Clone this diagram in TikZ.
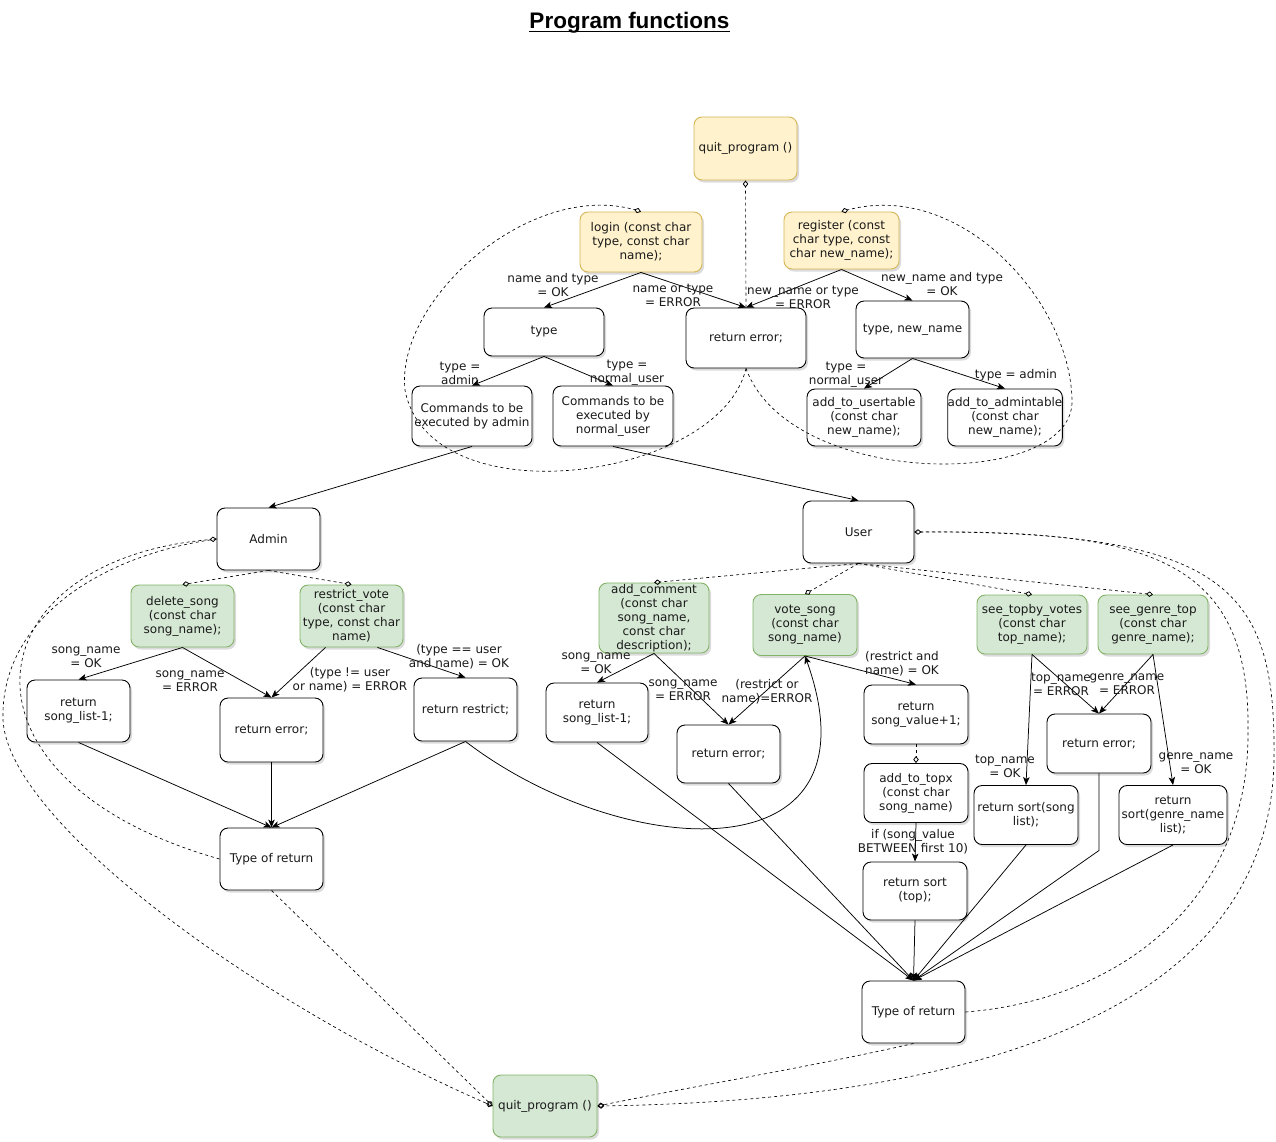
\documentclass[tikz,border=0pt]{standalone}
\usepackage{fontspec}
\setmainfont{DejaVu Sans}
\newfontfamily\headfont{Liberation Sans}
\usetikzlibrary{arrows.meta,shadows}
\definecolor{noteFill}{HTML}{FFF2CC}
\definecolor{noteLine}{HTML}{D6B656}
\definecolor{opFill}{HTML}{D5E8D4}
\definecolor{opLine}{HTML}{82B366}
\definecolor{ink}{HTML}{1A1A1A}

\begin{document}
\begin{tikzpicture}[x=1pt,y=-1pt,
  box/.style={draw=black, line width=0.9pt, rounded corners=8pt, fill=white,
    align=center, text=ink, font=\fontsize{12}{14}\selectfont, inner sep=0pt,
    drop shadow={shadow xshift=2pt,shadow yshift=-2.5pt,opacity=0.28}},
  entry/.style={box, draw=noteLine, fill=noteFill},
  op/.style={box, draw=opLine, fill=opFill},
  flow/.style={line width=0.75pt, -{Stealth[length=8pt,width=6.5pt,inset=2pt]}},
  link/.style={line width=0.65pt, dash pattern=on 3pt off 3pt,
    -{Diamond[open,length=7pt,width=5.5pt,line width=0.8pt]}},
  lbl/.style={align=center, font=\fontsize{12}{14}\selectfont, text=ink, inner sep=0pt},
]
\fill[white] (0,0) rectangle (1276,1141);
\useasboundingbox (0,0) rectangle (1276,1141);

% title
\node[font=\headfont\bfseries\fontsize{22.5}{26}\selectfont, anchor=base, inner sep=0pt] (title) at (629.5,28) {Program functions};
\draw[line width=1.8pt] ([yshift=-3.5pt]title.base west) -- ([yshift=-3.5pt]title.base east);

% ---------- login / register ----------
\node[entry, minimum width=103pt, minimum height=63pt] (quitTop) at (745.5,148.5) {quit\_program ()};
\node[entry, minimum width=122pt, minimum height=60pt] (login) at (641,242) {login (const char\\type, const char\\name);};
\node[entry, minimum width=115pt, minimum height=57pt] (register) at (841.5,240.5) {register (const\\char type, const\\char new\_name);};
\node[box, minimum width=120pt, minimum height=48pt] (type) at (544,332) {type};
\node[box, minimum width=120pt, minimum height=60pt] (retErrTop) at (746,338) {return error;};
\node[box, minimum width=113pt, minimum height=57pt] (typeName) at (912.5,329.5) {type, new\_name};
\node[box, minimum width=120pt, minimum height=60pt] (cmdAdmin) at (472,416) {Commands to be\\executed by admin};
\node[box, minimum width=120pt, minimum height=60pt] (cmdUser) at (613,416) {Commands to be\\executed by\\normal\_user};
\node[box, minimum width=114pt, minimum height=57pt] (addUser) at (864,417.5) {add\_to\_usertable\\(const char\\new\_name);};
\node[box, minimum width=114pt, minimum height=57pt] (addAdmin) at (1005,417.5) {add\_to\_admintable\\(const char\\new\_name);};

% ---------- admin branch ----------
\node[box, minimum width=103pt, minimum height=62pt] (Admin) at (268.5,539) {Admin};
\node[op, minimum width=103pt, minimum height=62pt] (deleteSong) at (182.5,616) {delete\_song\\(const char\\song\_name);};
\node[op, minimum width=103pt, minimum height=62pt] (restrictVote) at (351.5,616) {restrict\_vote\\(const char\\type, const char\\name)};
\node[box, minimum width=103pt, minimum height=62pt] (retSongA) at (78.5,711) {return\\song\_list-1;};
\node[box, minimum width=103pt, minimum height=64pt] (retErrA) at (271.5,730) {return error;};
\node[box, minimum width=103pt, minimum height=63pt] (retRestrict) at (465.5,709.5) {return restrict;};
\node[box, minimum width=103pt, minimum height=62pt] (typeRetA) at (271.5,859) {Type of return};

% ---------- user branch ----------
\node[box, minimum width=111pt, minimum height=62pt] (User) at (858.5,532) {User};
\node[op, minimum width=110pt, minimum height=70pt] (addComment) at (654,618) {add\_comment\\(const char\\song\_name,\\const char\\description);};
\node[op, minimum width=104pt, minimum height=61pt] (voteSong) at (805,625) {vote\_song\\(const char\\song\_name)};
\node[op, minimum width=110pt, minimum height=59pt] (seeTop) at (1032,624.5) {see\_topby\_votes\\(const char\\top\_name);};
\node[op, minimum width=110pt, minimum height=59pt] (seeGenre) at (1153,624.5) {see\_genre\_top\\(const char\\genre\_name);};
\node[box, minimum width=102pt, minimum height=59pt] (retSongU) at (597,712.5) {return\\song\_list-1;};
\node[box, minimum width=103pt, minimum height=58pt] (retErrU) at (728.5,754) {return error;};
\node[box, minimum width=104pt, minimum height=59pt] (retSongVal) at (916,714.5) {return\\song\_value+1;};
\node[box, minimum width=104pt, minimum height=59pt] (addTopx) at (916,793) {add\_to\_topx\\(const char\\song\_name)};
\node[box, minimum width=104pt, minimum height=58pt] (retSortTop) at (915,891) {return sort\\(top);};
\node[box, minimum width=104pt, minimum height=59pt] (retErrV) at (1099,743.5) {return error;};
\node[box, minimum width=104pt, minimum height=59pt] (retSortSong) at (1026,815) {return sort(song\\list);};
\node[box, minimum width=108pt, minimum height=59pt] (retSortGenre) at (1173,815) {return\\sort(genre\_name\\list);};
\node[box, minimum width=103pt, minimum height=62pt] (typeRetU) at (913.5,1012) {Type of return};
\node[op, minimum width=104pt, minimum height=62pt] (quitBottom) at (545,1106) {quit\_program ()};

% ---------- connectors: login / register ----------
\draw[flow] (login.south) -- (type.north);
\draw[flow] (login.south) -- (retErrTop.north);
\draw[flow] (register.south) -- (retErrTop.north);
\draw[flow] (register.south) -- (typeName.north);
\draw[link] (retErrTop.north) -- (quitTop.south);
\draw[flow] (type.south) -- (cmdAdmin.north);
\draw[flow] (type.south) -- (cmdUser.north);
\draw[flow] (typeName.south) -- (addUser.north);
\draw[flow] (typeName.south) -- (addAdmin.north);
\draw[flow] (cmdAdmin.south) -- (Admin.north);
\draw[flow] (cmdUser.south) -- (User.north);
\draw[link] (retErrTop.south) .. controls (720,480) and (430,520) .. (405,390)
  .. controls (395,300) and (530,180) .. (login.north);
\draw[link] (retErrTop.south) .. controls (790,490) and (1075,490) .. (1072,400)
  .. controls (1070,300) and (960,180) .. (register.north);

\node[lbl] (lLoginOk) at (553,285) {name and type\\= OK};
\node[lbl] (lLoginErr) at (673,295) {name or type\\= ERROR};
\node[lbl] (lRegErr) at (803,297) {new\_name or type\\= ERROR};
\node[lbl] (lRegOk) at (942,284) {new\_name and type\\= OK};
\node[lbl] (lTypeAdmin) at (460,373) {type =\\admin};
\node[lbl] (lTypeUser) at (627,373) {type =\\normal\_user};
\node[lbl] (lNewUser) at (846,375) {type =\\normal\_user};
\node[lbl] (lNewAdmin) at (1016,375) {type = admin};

% ---------- connectors: admin branch ----------
\draw[link] (Admin.south) -- (deleteSong.north);
\draw[link] (Admin.south) -- (restrictVote.north);
\draw[flow] (deleteSong.south) -- (retSongA.north);
\draw[flow] (deleteSong.south) -- (retErrA.north);
\draw[flow] ([xshift=-26pt]restrictVote.south) -- (retErrA.north);
\draw[flow] ([xshift=26pt]restrictVote.south) -- (retRestrict.north);
\draw[flow] (retSongA.south) -- (typeRetA.north);
\draw[flow] (retErrA.south) -- (typeRetA.north);
\draw[flow] (retRestrict.south) -- (typeRetA.north);
\draw[flow] (retRestrict.south) .. controls (620,860) and (885,880) .. (voteSong.south);
\draw[link] (typeRetA.west) .. controls (-60,780) and (-30,560) .. (Admin.west);
\draw[link] (Admin.west) .. controls (100,555) and (0,620) .. (3,720)
  .. controls (8,820) and (250,1000) .. (quitBottom.west);
\draw[link] (typeRetA.south) -- (quitBottom.west);

\node[lbl] (lDelOk) at (86,657) {song\_name\\= OK};
\node[lbl] (lDelErr) at (190,681) {song\_name\\= ERROR};
\node[lbl] (lResErr) at (350,680) {(type != user\\or name) = ERROR};
\node[lbl] (lResOk) at (459,657) {(type == user\\and name) = OK};

% ---------- connectors: user branch ----------
\draw[link] (User.south) -- (addComment.north);
\draw[link] (User.south) -- (voteSong.north);
\draw[link] (User.south) -- (seeTop.north);
\draw[link] (User.south) -- (seeGenre.north);
\draw[flow] (addComment.south) -- (retSongU.north);
\draw[flow] (addComment.south) -- (retErrU.north);
\draw[flow] (voteSong.south) -- (retErrU.north);
\draw[flow] (voteSong.south) -- (retSongVal.north);
\draw[link] (retSongVal.south) -- (addTopx.north);
\draw[flow] (addTopx.south) -- (retSortTop.north);
\draw[flow] (seeTop.south) -- (retSortSong.north);
\draw[flow] (seeTop.south) -- (retErrV.north);
\draw[flow] (seeGenre.south) -- (retErrV.north);
\draw[flow] (seeGenre.south) -- (retSortGenre.north);
\draw[flow] (retSongU.south) -- (typeRetU.north);
\draw[flow] (retErrU.south) -- (typeRetU.north);
\draw[flow] (retSortTop.south) -- (typeRetU.north);
\draw[flow] (retSortSong.south) -- (typeRetU.north);
\draw[flow] (retErrV.south) -- ++(0,77) -- (typeRetU.north);
\draw[flow] (retSortGenre.south) -- (typeRetU.north);
\draw[link] (typeRetU.east) .. controls (1120,1000) and (1250,900) .. (1248,730)
  .. controls (1250,560) and (1150,530) .. (User.east);
\draw[link] (User.east) .. controls (1230,530) and (1276,590) .. (1274,760)
  .. controls (1270,1000) and (1000,1100) .. (quitBottom.east);
\draw[link] (typeRetU.south) .. controls (820,1065) and (700,1085) .. (quitBottom.east);

\node[lbl] (lComOk) at (596,663) {song\_name\\= OK};
\node[lbl] (lComErr) at (683,690) {song\_name\\= ERROR};
\node[lbl] (lVoteErr) at (767,692) {(restrict or\\name)=ERROR};
\node[lbl] (lVoteOk) at (902,664) {(restrict and\\name) = OK};
\node[lbl] (lTopx) at (913,842) {if (song\_value\\BETWEEN first 10)};
\node[lbl] (lTopErr) at (1061,684) {top\_name\\= ERROR};
\node[lbl] (lGenErr) at (1127,684) {genre\_name\\= ERROR};
\node[lbl] (lTopOk) at (1005,766) {top\_name\\= OK};
\node[lbl] (lGenOk) at (1196,763) {genre\_name\\= OK};
\end{tikzpicture}
\end{document}
